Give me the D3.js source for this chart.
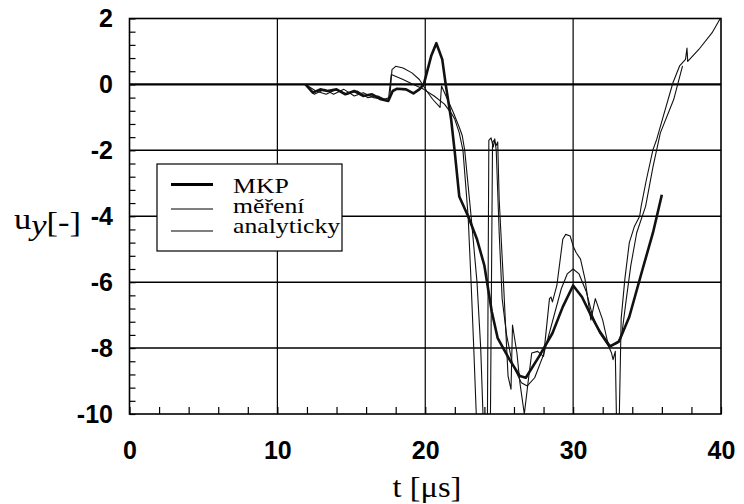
<!DOCTYPE html>
<html>
<head>
<meta charset="utf-8">
<script src="https://cdn.jsdelivr.net/npm/d3@7"></script>
<style>
  body { margin: 0; background: #fff; }
  svg { display: block; }
</style>
</head>
<body>
<svg id="chart"></svg>
<script>
const width = 744;
const height = 504;

// MKP (thick line)
const mkpT = [11.9, 12.4, 12.9, 13.4, 14.0, 14.6, 15.2, 15.8, 16.4, 17.0, 17.5, 17.8, 18.1, 18.7, 19.2, 19.6, 19.9, 20.4, 20.75, 21.15, 21.4, 21.75, 22.0, 22.3, 22.9, 23.5, 24.0, 24.5, 24.9, 25.7, 26.4, 26.8, 27.7, 28.6, 29.3, 30.0, 30.6, 31.2, 31.8, 32.5, 33.1, 33.8, 34.7, 35.4, 36.0];
const mkpV = [0, -0.25, -0.15, -0.2, -0.15, -0.3, -0.2, -0.35, -0.3, -0.45, -0.5, -0.2, -0.13, -0.15, -0.27, -0.15, 0.0, 0.86, 1.25, 0.76, -0.05, -1.06, -2.07, -3.4, -4.0, -4.7, -5.5, -6.9, -7.7, -8.35, -8.85, -8.9, -8.25, -7.55, -6.75, -6.1, -6.45, -7.0, -7.5, -7.95, -7.8, -7.05, -5.6, -4.5, -3.35];

// měření (measurement, thin)
const merT = [11.9, 12.5, 13.2, 13.8, 14.5, 15.2, 15.8, 16.5, 17.2, 17.6, 17.75, 18.0, 18.5, 19.1, 19.6, 20.1, 20.5, 21.0, 21.1, 21.4, 21.9, 22.3, 22.5, 22.67, 23.1, 23.5, 23.75, 23.95, 24.4, 24.55, 24.65, 24.8, 24.9, 25.0, 25.3, 25.5, 25.6, 25.8, 25.9, 26.2, 26.4, 26.7, 26.95, 27.2, 27.6, 28.0, 28.4, 28.5, 28.6, 28.9, 29.3, 29.5, 29.8, 30.0, 30.2, 30.5, 30.8, 31.2, 31.5, 32.0, 32.2, 32.4, 32.6, 32.7, 32.85, 32.95, 33.1, 33.25, 33.5, 33.8, 34.15, 34.5, 34.6, 34.95, 35.4, 35.65, 36.1, 36.75, 37.2, 37.6, 37.7, 37.75, 38.5, 39.4, 39.95];
const merV = [0, -0.3, -0.15, -0.3, -0.15, -0.35, -0.25, -0.4, -0.45, -0.4, 0.45, 0.55, 0.5, 0.35, 0.15, -0.2, -0.45, -0.7, -0.05, -0.35, -0.85, -1.3, -1.55, -2.0, -4.0, -6.0, -8.0, -10.6, -10.6, -1.75, -1.7, -1.85, -1.75, -3.5, -6.1, -7.95, -8.85, -9.25, -7.3, -8.15, -9.05, -10.0, -9.05, -8.15, -8.1, -8.25, -6.5, -6.45, -6.6, -6.1, -4.7, -4.55, -4.6, -4.9, -5.1, -5.3, -5.9, -7.15, -6.5, -7.15, -7.55, -7.95, -8.15, -8.35, -8.1, -10.6, -10.6, -7.1, -5.9, -4.8, -4.3, -4.0, -3.7, -2.9, -1.98, -1.67, -0.96, 0.05, 0.56, 0.76, 1.1, 0.7, 1.06, 1.57, 2.0];

// analyticky (analytical, thin)
const anaT = [11.9, 12.6, 13.3, 14.0, 14.7, 15.4, 16.1, 16.8, 17.5, 17.7, 18.5, 19.2, 19.9, 20.6, 21.3, 21.8, 22.0, 22.3, 22.55, 22.9, 23.1, 23.28, 23.5, 24.2, 24.3, 24.45, 24.6, 24.7, 24.8, 25.0, 25.2, 25.5, 25.9, 26.5, 26.9, 27.4, 28.0, 28.6, 29.2, 29.6, 30.0, 30.4, 30.9, 31.3, 31.8, 32.4, 33.0, 33.3, 33.6, 33.9, 34.3, 34.9, 35.4, 35.9, 36.8, 37.4];
const anaV = [0, -0.2, -0.3, -0.15, -0.3, -0.2, -0.4, -0.35, -0.5, 0.3, 0.15, 0.0, -0.15, -0.35, -0.6, -0.9, -1.06, -1.47, -2.0, -4.0, -6.0, -8.0, -10.6, -10.6, -1.7, -1.62, -1.9, -1.65, -2.0, -4.5, -6.5, -7.6, -8.5, -9.05, -9.15, -8.9, -8.2, -7.2, -6.2, -5.75, -5.6, -5.75, -6.3, -7.0, -7.55, -7.95, -7.85, -7.55, -6.5, -5.5, -4.5, -3.7, -2.5, -1.47, -0.46, 0.56];

const xMajor = [0, 10, 20, 30, 40];
const yMajor = [2, 0, -2, -4, -6, -8, -10];
const legendNames = ["MKP", "měření", "analyticky"];

const svg = d3.select("#chart").attr("width", width).attr("height", height);

const x = d3.scaleLinear().domain([0, 40]).range([129.5, 721]);
const y = d3.scaleLinear().domain([-10, 2]).range([414, 18.5]);

const plotW = x(40) - x(0);
const plotH = y(-10) - y(2);

// grid
svg
  .append("g")
  .selectAll("line")
  .data(xMajor.slice(1, -1))
  .enter()
  .append("line")
  .attr("x1", (d) => x(d))
  .attr("x2", (d) => x(d))
  .attr("y1", y(2))
  .attr("y2", y(-10))
  .attr("stroke", "#000")
  .attr("stroke-width", 1.2);

svg
  .append("g")
  .selectAll("line")
  .data(yMajor.slice(1, -1))
  .enter()
  .append("line")
  .attr("x1", x(0))
  .attr("x2", x(40))
  .attr("y1", (d) => y(d))
  .attr("y2", (d) => y(d))
  .attr("stroke", "#000")
  .attr("stroke-width", (d) => (d === 0 ? 2.1 : 1.5));

// minor ticks (inside)
svg
  .append("g")
  .attr("transform", `translate(0, ${y(-10)})`)
  .call(d3.axisBottom(x).tickValues(d3.range(0, 41, 2)).tickSize(-7).tickFormat(""))
  .call((g) => g.select(".domain").remove())
  .call((g) => g.selectAll("line").attr("stroke-width", 1.2));

svg
  .append("g")
  .attr("transform", `translate(${x(0)}, 0)`)
  .call(d3.axisLeft(y).tickValues(d3.range(-50, 11, 2).map((d) => d / 5)).tickSize(-6).tickFormat(""))
  .call((g) => g.select(".domain").remove())
  .call((g) => g.selectAll("line").attr("stroke-width", 1.2));

// tick labels
svg
  .append("g")
  .attr("transform", `translate(0, ${y(-10)})`)
  .call(d3.axisBottom(x).tickValues(xMajor).tickSize(0).tickPadding(27).tickFormat((d) => String(d)))
  .call((g) => g.select(".domain").remove())
  .selectAll("text")
  .attr("font-family", "Liberation Sans, Arial, sans-serif")
  .attr("font-weight", "bold")
  .attr("font-size", 25)
  .attr("fill", "#000");

svg
  .append("g")
  .attr("transform", `translate(${x(0)}, 0)`)
  .call(d3.axisLeft(y).tickValues(yMajor).tickSize(0).tickPadding(16.5).tickFormat((d) => String(d)))
  .call((g) => g.select(".domain").remove())
  .selectAll("text")
  .attr("font-family", "Liberation Sans, Arial, sans-serif")
  .attr("font-weight", "bold")
  .attr("font-size", 25)
  .attr("fill", "#000");

// data lines
svg
  .append("clipPath")
  .attr("id", "clip")
  .append("rect")
  .attr("x", x(0))
  .attr("y", y(2))
  .attr("width", plotW)
  .attr("height", plotH);

const line = d3
  .line()
  .x((d) => x(d[0]))
  .y((d) => y(d[1]));

const series = [
  { t: anaT, v: anaV, w: 1.1 },
  { t: merT, v: merV, w: 1.1 },
  { t: mkpT, v: mkpV, w: 2.6 },
];

svg
  .append("g")
  .attr("clip-path", "url(#clip)")
  .selectAll("path")
  .data(series)
  .enter()
  .append("path")
  .attr("d", (s) => line(s.t.map((t, i) => [t, s.v[i]])))
  .attr("fill", "none")
  .attr("stroke", "#111")
  .attr("stroke-width", (s) => s.w)
  .attr("stroke-linejoin", "round");

// frame
svg
  .append("rect")
  .attr("x", x(0))
  .attr("y", y(2))
  .attr("width", plotW)
  .attr("height", plotH)
  .attr("fill", "none")
  .attr("stroke", "#000")
  .attr("stroke-width", 1.6);

// legend
const legend = svg.append("g").attr("transform", "translate(157, 164)");

legend
  .append("rect")
  .attr("width", 185)
  .attr("height", 87)
  .attr("fill", "#fff")
  .attr("stroke", "#000")
  .attr("stroke-width", 1.2);

const legendY = [20.5, 45, 67];
const legendText = [29, 49, 69];

legend
  .selectAll(".lg-line")
  .data(legendNames)
  .enter()
  .append("line")
  .attr("x1", 14)
  .attr("x2", 56)
  .attr("y1", (d, i) => legendY[i])
  .attr("y2", (d, i) => legendY[i])
  .attr("stroke", "#000")
  .attr("stroke-width", (d, i) => (i === 0 ? 2.8 : 1.1));

legend
  .selectAll(".lg-text")
  .data(legendNames)
  .enter()
  .append("text")
  .attr("transform", (d, i) => `translate(76, ${legendText[i]}) scale(1.17, 1)`)
  .attr("font-family", "Liberation Serif, Times New Roman, serif")
  .attr("font-size", 22)
  .attr("fill", "#000")
  .text((d) => d);

// axis titles
svg
  .append("text")
  .attr("transform", "translate(427, 497) scale(1.12, 1)")
  .attr("text-anchor", "middle")
  .attr("font-family", "Liberation Serif, Times New Roman, serif")
  .attr("font-size", 29)
  .attr("fill", "#000")
  .text("t [μs]");

const yTitle = svg
  .append("text")
  .attr("transform", "translate(14, 229) scale(1.15, 1)")
  .attr("font-family", "Liberation Serif, Times New Roman, serif")
  .attr("font-size", 30)
  .attr("fill", "#000");
yTitle.append("tspan").text("u");
yTitle.append("tspan").attr("font-style", "italic").attr("dy", 6).text("y");
yTitle.append("tspan").attr("dy", -3).text("[-]");
</script>
</body>
</html>
